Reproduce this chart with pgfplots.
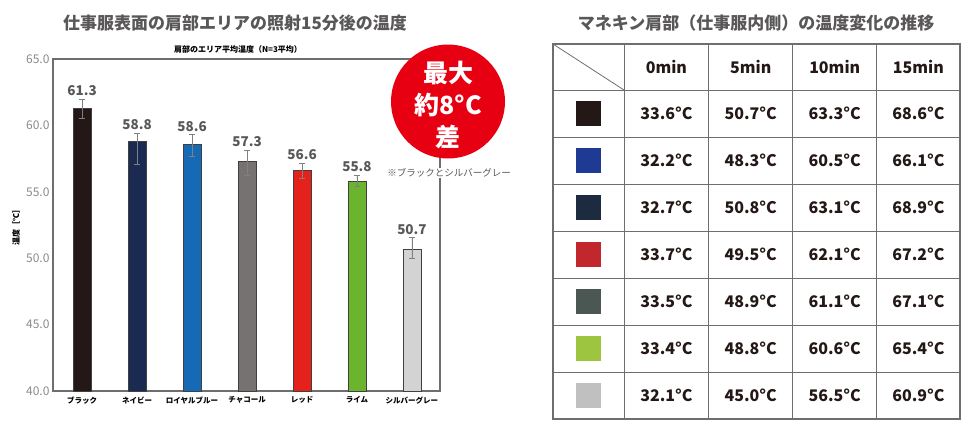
\documentclass[border=0pt]{standalone}
\usepackage{pgfplots}
\pgfplotsset{compat=1.18}
\usepackage{fontspec}
\setmainfont{Noto Sans CJK JP}

% bar colours
\definecolor{cBlack}{HTML}{231815}
\definecolor{cNavy}{HTML}{1B2A50}
\definecolor{cRoyal}{HTML}{166AB5}
\definecolor{cChar}{HTML}{767271}
\definecolor{cRed}{HTML}{E5211B}
\definecolor{cLime}{HTML}{6AB42E}
\definecolor{cSilver}{HTML}{D3D3D4}
% text and lines
\definecolor{titlegray}{HTML}{595757}
\definecolor{ticgray}{HTML}{8A8A8A}
\definecolor{framegray}{HTML}{6E6E6E}
\definecolor{badge}{HTML}{E60012}
% table swatches
\definecolor{sBlack}{HTML}{231815}
\definecolor{sBlue}{HTML}{1F3A93}
\definecolor{sNavy}{HTML}{1C2B3F}
\definecolor{sRed}{HTML}{C2272D}
\definecolor{sChar}{HTML}{4B5752}
\definecolor{sLime}{HTML}{9DC53F}
\definecolor{sSilver}{HTML}{C0C0C0}

\pgfplotsset{
  barstyle/.style={ybar, bar width=18pt, bar shift=0pt, draw=black!75, line width=0.6pt,
    error bars/.cd, y dir=both, y explicit,
    error bar style={gray, line width=0.6pt},
    error mark options={gray, mark size=3pt, line width=0.6pt, rotate=90}},
}

\begin{document}
\begin{tikzpicture}
\path[use as bounding box] (0,0) rectangle (972pt,-432pt);

\begin{axis}[
  at={(53pt,-391pt)}, anchor=south west,
  scale only axis, width=387pt, height=332pt,
  xmin=-0.53, xmax=6.51, ymin=40, ymax=65,
  ytick={40,45,...,65},
  xtick={0,...,6},
  xticklabels={ブラック,ネイビー,ロイヤルブルー,チャコール,レッド,ライム,シルバーグレー},
  major tick length=0pt,
  axis line style={framegray, line width=1.2pt},
  x tick label style={font=\bfseries\fontsize{7.5}{8}\selectfont, text=black, yshift=-2pt},
  y tick label style={font=\fontsize{12}{12}\selectfont, text=ticgray,
    /pgf/number format/.cd, fixed, fixed zerofill, precision=1, assume math mode=true},
  ylabel={温度［℃］},
  ylabel style={at={(axis description cs:-0.0956,0.5)}, anchor=center, rotate=0,
    font=\bfseries\fontsize{8}{9}\selectfont},
  title={肩部のエリア平均温度（N=3平均）},
  title style={at={(axis description cs:0.478,1)}, anchor=south, yshift=-4pt,
    font=\bfseries\fontsize{8}{9}\selectfont},
  clip=false,
]
\addplot[fill=cBlack,  barstyle] coordinates {(0,61.3) += (0,0.7)  -= (0,0.8)};
\addplot[fill=cNavy,   barstyle] coordinates {(1,58.8) += (0,0.6)  -= (0,1.7)};
\addplot[fill=cRoyal,  barstyle] coordinates {(2,58.6) += (0,0.7)  -= (0,0.9)};
\addplot[fill=cChar,   barstyle] coordinates {(3,57.3) += (0,0.85) -= (0,1.05)};
\addplot[fill=cRed,    barstyle] coordinates {(4,56.6) += (0,0.55) -= (0,0.55)};
\addplot[fill=cLime,   barstyle] coordinates {(5,55.8) += (0,0.45) -= (0,0.4)};
\addplot[fill=cSilver, barstyle] coordinates {(6,50.7) += (0,0.85) -= (0,0.7)};

% value labels above the error bars
\addplot[draw=none, mark=none, nodes near coords, point meta=explicit symbolic,
  nodes near coords style={font=\bfseries\fontsize{13.5}{14}\selectfont, text=titlegray,
    anchor=south, inner sep=1.5pt, yshift=1.5pt}]
coordinates {(0,62.0)[61.3] (1,59.4)[58.8] (2,59.3)[58.6] (3,58.15)[57.3]
             (4,57.15)[56.6] (5,56.25)[55.8] (6,51.55)[50.7]};
\end{axis}

\begin{scope}[x=1pt,y=-1pt]
% titles
\node[font=\bfseries\fontsize{17}{18}\selectfont, text=titlegray] at (235,23)
  {仕事服表面の肩部エリアの照射15分後の温度};
\node[font=\bfseries\fontsize{17}{18}\selectfont, text=titlegray] at (756,23)
  {マネキン肩部（仕事服内側）の温度変化の推移};

% badge
\fill[badge] (448,101.5) circle[radius=57];
\node[text=white, font=\bfseries\fontsize{25}{25}\selectfont] at (448,73) {最大};
\node[text=white, font=\bfseries\fontsize{25}{25}\selectfont] at (448,105) {約8°C};
\node[text=white, font=\bfseries\fontsize{25}{25}\selectfont] at (448,137) {差};
\node[text=titlegray, font=\fontsize{9.5}{10}\selectfont, fill=white, inner sep=0.5pt]
  at (449,172.7) {※ブラックとシルバーグレー};

% table
\draw[framegray, line width=1.2pt] (553,44) rectangle (960,419);
\foreach \xx in {624,708.7,792.7,876.7}
  \draw[framegray, line width=1pt] (\xx,44) -- (\xx,419);
\foreach \yy in {90,137,184,231,278,325,372}
  \draw[framegray, line width=1pt] (553,\yy) -- (960,\yy);
\draw[framegray, line width=0.8pt] (553,44) -- (624,90);

\foreach \hd/\xc in {0min/666.4,5min/750.7,10min/834.7,15min/918.4}
  \node[font=\bfseries\fontsize{16}{17}\selectfont, text=cBlack] at (\xc,67) {\hd};

\foreach \sw/\va/\vb/\vc/\vd [count=\i] in {
  sBlack/33.6/50.7/63.3/68.6, sBlue/32.2/48.3/60.5/66.1, sNavy/32.7/50.8/63.1/68.9,
  sRed/33.7/49.5/62.1/67.2, sChar/33.5/48.9/61.1/67.1, sLime/33.4/48.8/60.6/65.4,
  sSilver/32.1/45.0/56.5/60.9}{
  \pgfmathsetmacro\yc{90+47*(\i-0.5)}
  \fill[\sw] (576,\yc-12.5) rectangle (601,\yc+12.5);
  \node[font=\bfseries\fontsize{16}{17}\selectfont, text=cBlack] at (666.4,\yc) {\va°C};
  \node[font=\bfseries\fontsize{16}{17}\selectfont, text=cBlack] at (750.7,\yc) {\vb°C};
  \node[font=\bfseries\fontsize{16}{17}\selectfont, text=cBlack] at (834.7,\yc) {\vc°C};
  \node[font=\bfseries\fontsize{16}{17}\selectfont, text=cBlack] at (918.4,\yc) {\vd°C};
}
\end{scope}
\end{tikzpicture}
\end{document}
